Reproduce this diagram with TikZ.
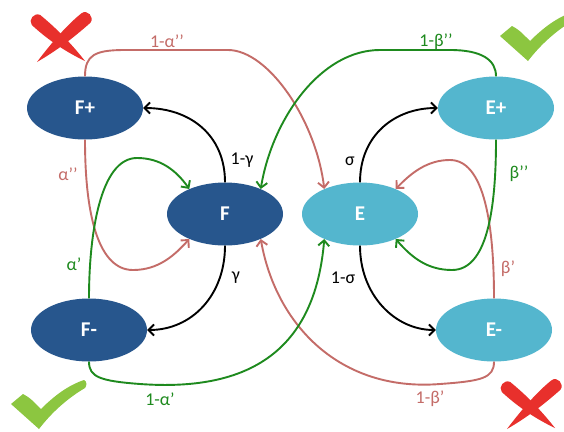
\documentclass[tikz,border=0pt]{standalone}
\usepackage{fontspec}
\setmainfont{Carlito}
\usetikzlibrary{shapes.geometric,arrows.meta}
\definecolor{fdark}{RGB}{39,86,141}
\definecolor{elight}{RGB}{84,182,206}
\definecolor{redarr}{RGB}{196,108,104}
\definecolor{grnarr}{RGB}{30,138,30}
\definecolor{xred}{RGB}{232,48,44}
\definecolor{chk}{RGB}{140,198,64}
\begin{document}
\begin{tikzpicture}[x=1pt,y=-1pt,
  state/.style={ellipse, minimum width=116pt, minimum height=63pt, inner sep=0pt, text=white, font=\fontsize{21}{21}\selectfont\bfseries},
  fstate/.style={state, fill=fdark},
  estate/.style={state, fill=elight},
  conn/.style={line width=1.9pt, -{Straight Barb[length=5.5pt,width=11pt]}},
  blk/.style={conn, black},
  rd/.style={conn, redarr},
  gn/.style={conn, grnarr},
  lbl/.style={font=\fontsize{18}{18}\selectfont, inner sep=0pt},
  crossstroke/.style={fill=xred},
  checkshape/.style={fill=chk},
]
\clip (0,0) rectangle (564,431);
\fill[white] (0,0) rectangle (564,431);

% nodes
\node[fstate] (Fp) at (85,108) {F+};
\node[fstate] (F)  at (225,214) {F};
\node[fstate] (Fm) at (89,330) {F-};
\node[estate] (Ep) at (496,108) {E+};
\node[estate] (E)  at (360,214) {E};
\node[estate] (Em) at (494,330) {E-};

% black connectors
\draw[blk] (F.north) .. controls (225,135) and (190,108) .. (Fp.east);
\draw[blk] (F.south) .. controls (225,295) and (192,330) .. (Fm.east);
\draw[blk] (E.north) .. controls (360,135) and (395,108) .. (Ep.west);
\draw[blk] (E.south) .. controls (360,295) and (395,330) .. (Em.west);

% red connectors
\draw[rd] (Fp.north) .. controls (85,55) and (95,50) .. (125,50) -- (228,50)
  .. controls (268,50) and (316,120) .. (E.145);
\draw[rd] (Fp.south) .. controls (85,220) and (100,270) .. (133,270)
  .. controls (158,270) and (174,256) .. (F.215);
\draw[rd] (Em.north) .. controls (494,240) and (488,160) .. (450,160)
  .. controls (428,160) and (412,172) .. (E.35);
\draw[rd] (Em.south) .. controls (494,378) and (482,381) .. (440,384)
  .. controls (340,392) and (276,325) .. (F.325);

% green connectors
\draw[gn] (Fm.north) .. controls (89,235) and (100,158) .. (137,158)
  .. controls (160,158) and (176,170) .. (F.145);
\draw[gn] (Fm.south) .. controls (89,377) and (100,381) .. (140,384)
  .. controls (250,392) and (315,350) .. (E.215);
\draw[gn] (Ep.north) .. controls (496,60) and (482,50) .. (450,50) -- (380,50)
  .. controls (320,50) and (272,120) .. (F.35);
\draw[gn] (Ep.south) .. controls (496,210) and (487,270) .. (452,270)
  .. controls (428,270) and (412,258) .. (E.325);

% labels
\node[lbl, text=redarr] (la1) at (167,41) {1-α’’};
\node[lbl, text=redarr] (la2) at (68,174) {α’’};
\node[lbl, text=grnarr] (la3) at (74,264) {α’};
\node[lbl, text=grnarr] (la4) at (160,399) {1-α’};
\node[lbl] (lg1) at (242,160) {1-γ};
\node[lbl] (lg2) at (236,278) {γ};
\node[lbl] (ls1) at (350,161) {σ};
\node[lbl] (ls2) at (343,278) {1-σ};
\node[lbl, text=grnarr] (lb1) at (436,42) {1-β’’};
\node[lbl, text=grnarr] (lb2) at (519,174) {β’’};
\node[lbl, text=redarr] (lb3) at (508,269) {β’};
\node[lbl, text=redarr] (lb4) at (430,399) {1-β’};

% cross marks
\foreach \dx/\dy in {0/0, 470/367} {
  \begin{scope}[shift={(\dx,\dy)}]
    \fill[crossstroke] (40.2,15) .. controls (55,27) and (70,42) .. (85,61)
      .. controls (66,52) and (48,40) .. (31.8,25) .. controls (28,20) and (34,12) .. (40.2,15) -- cycle;
    \fill[crossstroke] (81.6,13.2) .. controls (68,24) and (52,42) .. (37,62)
      .. controls (56,51) and (72,39) .. (90.4,22.8) .. controls (95,17) and (87,9) .. (81.6,13.2) -- cycle;
  \end{scope}
}
% check marks
\foreach \dx/\dy in {0/0, 489/-368} {
  \begin{scope}[shift={(\dx,\dy)}]
    \fill[checkshape] (11,404) -- (23,394) .. controls (30,398) .. (41,409)
      .. controls (58,392) and (72,384) .. (84,380) .. controls (87,381) and (87,386) .. (85,388)
      .. controls (68,398) and (52,412) .. (39,429) -- cycle;
  \end{scope}
}
\end{tikzpicture}
\end{document}
